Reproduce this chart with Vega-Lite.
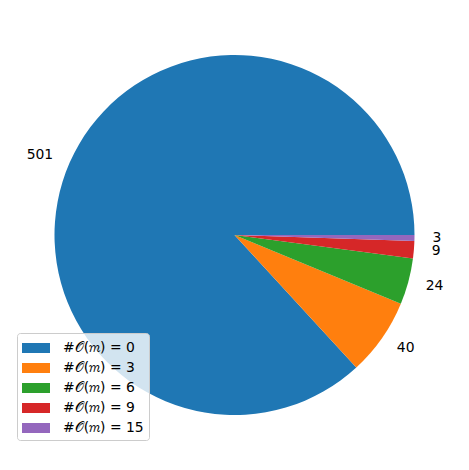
{
  "$schema": "https://vega.github.io/schema/vega-lite/v6.json",
  "width": 469,
  "height": 470,
  "padding": 0,
  "autosize": {"type": "fit", "contains": "padding"},
  "background": "white",
  "config": {"view": {"stroke": null}},
  "data": {
    "values": [
      {"idx": 0, "cat": "#𝒪(𝑚) = 0", "count": 501},
      {"idx": 1, "cat": "#𝒪(𝑚) = 3", "count": 40},
      {"idx": 2, "cat": "#𝒪(𝑚) = 6", "count": 24},
      {"idx": 3, "cat": "#𝒪(𝑚) = 9", "count": 9},
      {"idx": 4, "cat": "#𝒪(𝑚) = 15", "count": 3}
    ]
  },
  "encoding": {
    "theta": {"field": "count", "type": "quantitative", "stack": true, "scale": {"range": [1.5707963, 7.8539816]}},
    "order": {"field": "idx", "type": "quantitative", "sort": "descending"}
  },
  "layer": [
    {
      "mark": {"type": "arc", "outerRadius": 180},
      "encoding": {
        "color": {
          "field": "cat",
          "type": "nominal",
          "sort": null,
          "scale": {"range": ["#1f77b4", "#ff7f0e", "#2ca02c", "#d62728", "#9467bd"]},
          "legend": {
            "title": null,
            "orient": "none",
            "legendX": 17,
            "legendY": 333,
            "padding": 5,
            "symbolType": "M-1.4,-0.5H1.4V0.5H-1.4Z",
            "symbolSize": 400,
            "symbolOffset": 4,
            "symbolStrokeWidth": 0,
            "rowPadding": 3,
            "labelOffset": 17,
            "labelFont": "DejaVu Sans",
            "labelFontSize": 13.9,
            "labelColor": "black",
            "fillColor": "rgba(255,255,255,0.8)",
            "strokeColor": "#cccccc",
            "cornerRadius": 3
          }
        }
      }
    },
    {
      "mark": {"type": "text", "radius": 198, "align": "right", "baseline": "middle", "font": "DejaVu Sans", "fontSize": 13.9, "color": "black"},
      "encoding": {
        "text": {"condition": {"test": "datum.count > 100", "field": "count", "type": "quantitative"}, "value": ""}
      }
    },
    {
      "mark": {"type": "text", "radius": 198, "align": "left", "baseline": "middle", "font": "DejaVu Sans", "fontSize": 13.9, "color": "black"},
      "encoding": {
        "text": {"condition": {"test": "datum.count <= 100", "field": "count", "type": "quantitative"}, "value": ""}
      }
    }
  ]
}
